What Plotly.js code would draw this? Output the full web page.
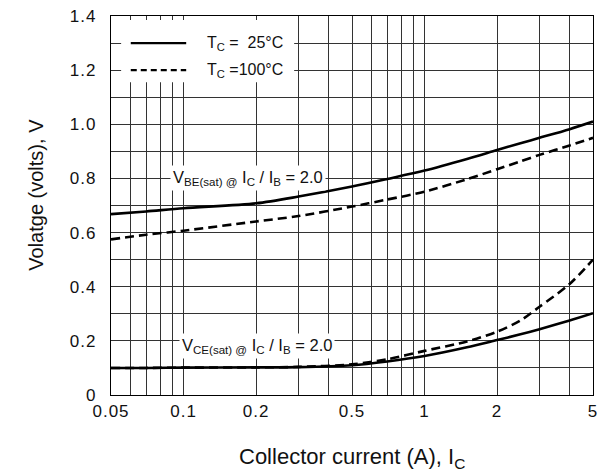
<!DOCTYPE html>
<html><head><meta charset="utf-8">
<script src="https://cdn.plot.ly/plotly-3.0.1.min.js"></script>
<style>
html,body{margin:0;padding:0;background:#fff}
#c{width:608px;height:472px}
#c .xtick text, #c .ytick text{letter-spacing:1px}
</style>
</head><body><div id="c"></div>
<script>
// Collector current (A)
const ic = [0.05, 0.07, 0.1, 0.2, 0.3, 0.5, 0.7, 1, 1.5, 2, 2.5, 3, 4, 5];
// V_BE(sat), Tc = 25 C
const vbe25 = [0.668, 0.678, 0.690, 0.708, 0.733, 0.770, 0.798, 0.829, 0.872, 0.905, 0.930, 0.950, 0.982, 1.010];
// V_BE(sat), Tc = 100 C
const vbe100 = [0.575, 0.592, 0.607, 0.641, 0.661, 0.696, 0.722, 0.751, 0.797, 0.834, 0.863, 0.887, 0.922, 0.950];
// V_CE(sat), Tc = 25 C
const vce25 = [0.100, 0.100, 0.101, 0.102, 0.103, 0.110, 0.124, 0.144, 0.176, 0.203, 0.224, 0.243, 0.275, 0.302];
// V_CE(sat), Tc = 100 C
const vce100 = [0.100, 0.100, 0.101, 0.102, 0.104, 0.113, 0.132, 0.163, 0.198, 0.234, 0.275, 0.326, 0.410, 0.500];

const xTickVals = [0.05,0.06,0.07,0.08,0.09,0.1,0.2,0.3,0.4,0.5,0.6,0.7,0.8,0.9,1,2,3,4,5];
const xTickText = ['0.05','','','','','0.1','0.2','','','0.5','','','','','1','2','','','5'];
const yTickVals = [0,0.1,0.2,0.3,0.4,0.5,0.6,0.7,0.8,0.9,1.0,1.1,1.2,1.3,1.4];
const yTickText = ['0','','0.2','','0.4','','0.6','','0.8','','1.0','','1.2','','1.4'];

const legendLabels = ['T<sub>C</sub> =\u00A0\u00A025°C', 'T<sub>C</sub> =100°C'];
const legendY = [1.3, 1.2];
const curveLabels = ['V<sub>BE(sat) @</sub> I<sub>C</sub> / I<sub>B</sub> = 2.0', 'V<sub>CE(sat) @</sub> I<sub>C</sub> / I<sub>B</sub> = 2.0'];
const xTitle = 'Collector current (A), I<sub>C</sub>';
const yTitle = 'Volatge (volts), V';

const FONT = 'Liberation Sans, Arial, sans-serif';
const solid = {color:'#000', width:2.6, shape:'spline', smoothing:0.8};
const dashed = {color:'#000', width:2.6, dash:'9px,5px', shape:'spline', smoothing:0.8};

const traces = [
  {x: ic, y: vbe25, mode:'lines', line: solid, hoverinfo:'skip'},
  {x: ic, y: vbe100, mode:'lines', line: dashed, hoverinfo:'skip'},
  {x: ic, y: vce25, mode:'lines', line: solid, hoverinfo:'skip'},
  {x: ic, y: vce100, mode:'lines', line: dashed, hoverinfo:'skip'}
];

const shapes = [
  {type:'rect', xref:'paper', yref:'y', x0:0.021, x1:0.38, y0:1.155, y1:1.385, fillcolor:'#fff', line:{width:0}, layer:'above'},
  {type:'line', xref:'paper', yref:'y', x0:0.041, x1:0.156, y0:legendY[0], y1:legendY[0], line:{color:'#000', width:2.2}, layer:'above'},
  {type:'line', xref:'paper', yref:'y', x0:0.041, x1:0.156, y0:legendY[1], y1:legendY[1], line:{color:'#000', width:2.2, dash:'6px,4px'}, layer:'above'}
];

const annotations = [
  {xref:'paper', yref:'y', x:0.195, y:legendY[0], text:legendLabels[0], showarrow:false, xanchor:'left', font:{family:FONT, size:16, color:'#111'}},
  {xref:'paper', yref:'y', x:0.195, y:legendY[1], text:legendLabels[1], showarrow:false, xanchor:'left', font:{family:FONT, size:16, color:'#111'}},
  {xref:'x', yref:'y', x:Math.log10(0.088), y:0.80, text:curveLabels[0], showarrow:false, xanchor:'left', bgcolor:'#fff', borderpad:2, font:{family:FONT, size:16.5, color:'#111'}},
  {xref:'x', yref:'y', x:Math.log10(0.096), y:0.18, text:curveLabels[1], showarrow:false, xanchor:'left', bgcolor:'#fff', borderpad:2, font:{family:FONT, size:16.5, color:'#111'}},
  {xref:'paper', yref:'paper', x:0.5, y:-0.166, yanchor:'middle', text:xTitle, showarrow:false, font:{family:FONT, size:22, color:'#111'}},
  {xref:'paper', yref:'paper', x:-0.156, y:0.528, xanchor:'center', yanchor:'middle', textangle:-90, text:yTitle, showarrow:false, font:{family:FONT, size:20, color:'#111'}}
];

const layout = {
  width:608, height:472,
  margin:{l:111, r:15, t:16, b:77},
  paper_bgcolor:'#fff', plot_bgcolor:'#fff',
  showlegend:false,
  font:{family:FONT, size:17, color:'#111'},
  xaxis:{type:'log', range:[Math.log10(0.05), Math.log10(5)], tickmode:'array', tickvals:xTickVals, ticktext:xTickText,
         showgrid:true, gridcolor:'#333', gridwidth:1, showline:true, linecolor:'#000', linewidth:1.2, mirror:true,
         ticks:'', zeroline:false, tickfont:{family:FONT, size:17, color:'#111'}},
  yaxis:{range:[0,1.4], tickmode:'array', tickvals:yTickVals, ticktext:yTickText,
         showgrid:true, gridcolor:'#333', gridwidth:1, showline:true, linecolor:'#000', linewidth:1.2, mirror:true,
         ticks:'', zeroline:false, ticklabelstandoff:10, tickfont:{family:FONT, size:17, color:'#111'}},
  shapes:shapes,
  annotations:annotations
};

Plotly.newPlot('c', traces, layout, {staticPlot:true, displayModeBar:false});
</script>
</body></html>
